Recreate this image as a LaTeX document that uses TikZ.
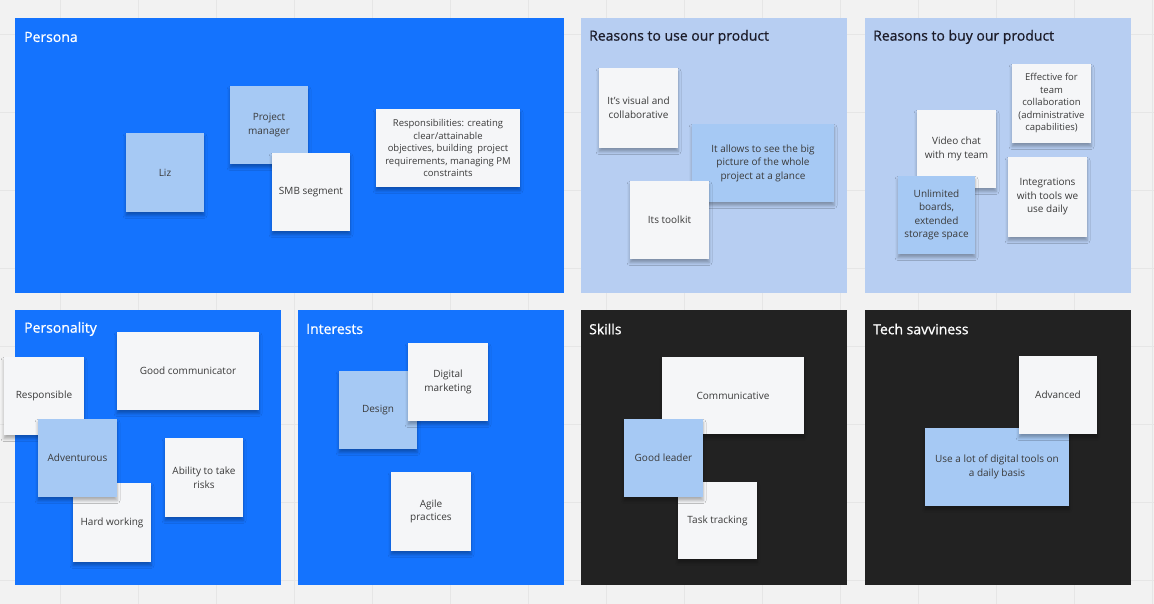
\documentclass[tikz,border=0pt]{standalone}
\usepackage{fontspec}
\setmainfont{Open Sans}
\newfontfamily\titlefont{Open Sans}[FakeBold=0.8]
\usetikzlibrary{shadows.blur}
\definecolor{bg}{HTML}{F2F2F2}
\definecolor{gridc}{HTML}{E6E6E6}
\definecolor{pblue}{HTML}{1473FE}
\definecolor{plight}{HTML}{B7CEF2}
\definecolor{pdark}{HTML}{222222}
\definecolor{sblue}{HTML}{A6C9F4}
\definecolor{swhite}{HTML}{F5F6F8}
\definecolor{stext}{HTML}{3A3A3A}
\definecolor{ttext}{HTML}{1C1C2A}
\begin{document}
\begin{tikzpicture}[x=1pt,y=-1pt,
  gridline/.style={draw=gridc, line width=0.8pt},
  title/.style={anchor=west, inner sep=0pt, font=\titlefont\fontsize{14}{16}\selectfont},
  wtitle/.style={title, text=white},
  dtitle/.style={title, text=ttext},
  sticky/.style={draw=none, inner sep=2pt, align=center, text=stext,
    font=\fontsize{10}{13.5}\selectfont,
    blur shadow={shadow xshift=0pt, shadow yshift=-3.5pt, shadow opacity=30, shadow blur radius=3pt}},
  sw/.style={sticky, fill=swhite},
  sb/.style={sticky, fill=sblue}]
\useasboundingbox (0,0) rectangle (1154,604);
\fill[bg] (0,0) rectangle (1154,604);
\foreach \x in {60,138,...,1154} \draw[gridline] (\x,0) -- (\x,604);
\foreach \y in {34,112,...,604} \draw[gridline] (0,\y) -- (1154,\y);

% panels
\fill[pblue] (15,18) rectangle (564,293);
\fill[plight] (581,18) rectangle (847,293);
\fill[plight] (865,18) rectangle (1131,293);
\fill[pblue] (15,310) rectangle (281,585);
\fill[pblue] (298,310) rectangle (564,585);
\fill[pdark] (581,310) rectangle (847,585);
\fill[pdark] (865,310) rectangle (1131,585);

\node[wtitle] (tpersona) at (24,37) {Persona};
\node[dtitle] (tuse) at (589,37) {Reasons to use our product};
\node[dtitle] (tbuy) at (873,37) {Reasons to buy our product};
\node[wtitle] (tpers) at (24,329) {Personality};
\node[wtitle] (tint) at (306,329) {Interests};
\node[wtitle] (tskills) at (589,329) {Skills};
\node[wtitle] (ttech) at (873,329) {Tech savviness};

% Persona
\node[sb, minimum width=78pt, minimum height=79pt] (liz) at (165,172.5) {Liz};
\node[sb, minimum width=78pt, minimum height=78pt] (pm) at (269,125) {Project\\manager};
\node[sw, minimum width=78pt, minimum height=78pt] (smb) at (311,192) {SMB segment};
\node[sw, minimum width=144pt, minimum height=78pt, font=\fontsize{9.5}{12.5}\selectfont] (resp) at (448,148) {Responsibilities: creating\\clear/attainable\\objectives, building~ project\\requirements, managing PM\\constraints};

% Reasons to use
\node[sw, minimum width=79pt, minimum height=80pt] (visual) at (638.5,108) {It's visual and\\collaborative};
\node[sb, minimum width=142pt, minimum height=78pt] (bigpic) at (763,163) {It allows to see the big\\picture of the whole\\project at a glance};
\node[sw, minimum width=79pt, minimum height=78pt] (toolkit) at (669.5,220) {Its toolkit};

% Reasons to buy
\node[sw, minimum width=79pt, minimum height=79pt, font=\fontsize{9.5}{12.5}\selectfont] (effective) at (1051.5,103.5) {Effective for\\team\\collaboration\\(administrative\\capabilities)};
\node[sw, minimum width=79pt, minimum height=78pt] (video) at (956.5,149) {Video chat\\with my team};
\node[sw, minimum width=79pt, minimum height=80pt] (integr) at (1047.5,197) {Integrations\\with tools we\\use daily};
\node[sb, minimum width=77pt, minimum height=78pt] (unlim) at (936.5,215) {Unlimited\\boards,\\extended\\storage space};

% Personality
\node[sw, minimum width=80pt, minimum height=78pt] (responsible) at (44,396) {Responsible};
\node[sw, minimum width=142pt, minimum height=78pt] (goodcomm) at (188,371) {Good communicator};
\node[sw, minimum width=78pt, minimum height=79pt] (ability) at (204,477.5) {Ability to take\\risks};
\node[sw, minimum width=78pt, minimum height=79pt] (hard) at (112,522.5) {Hard working};
\node[sb, minimum width=79pt, minimum height=78pt] (advent) at (77.5,458) {Adventurous};

% Interests
\node[sb, minimum width=78pt, minimum height=78pt] (design) at (378,410) {Design};
\node[sw, minimum width=80pt, minimum height=78pt] (digital) at (448,382) {Digital\\marketing};
\node[sw, minimum width=80pt, minimum height=79pt] (agile) at (431,511.5) {Agile\\practices};

% Skills
\node[sw, minimum width=142pt, minimum height=77pt] (communicative) at (733,395.5) {Communicative};
\node[sw, minimum width=79pt, minimum height=77pt] (task) at (717.5,520.5) {Task tracking};
\node[sb, minimum width=79pt, minimum height=78pt] (leader) at (663.5,458) {Good leader};

% Tech savviness
\node[sb, minimum width=144pt, minimum height=78pt] (digitools) at (997,467) {Use a lot of digital tools on\\a daily basis};
\node[sw, minimum width=78pt, minimum height=78pt] (advanced) at (1058,395) {Advanced};
\end{tikzpicture}
\end{document}
